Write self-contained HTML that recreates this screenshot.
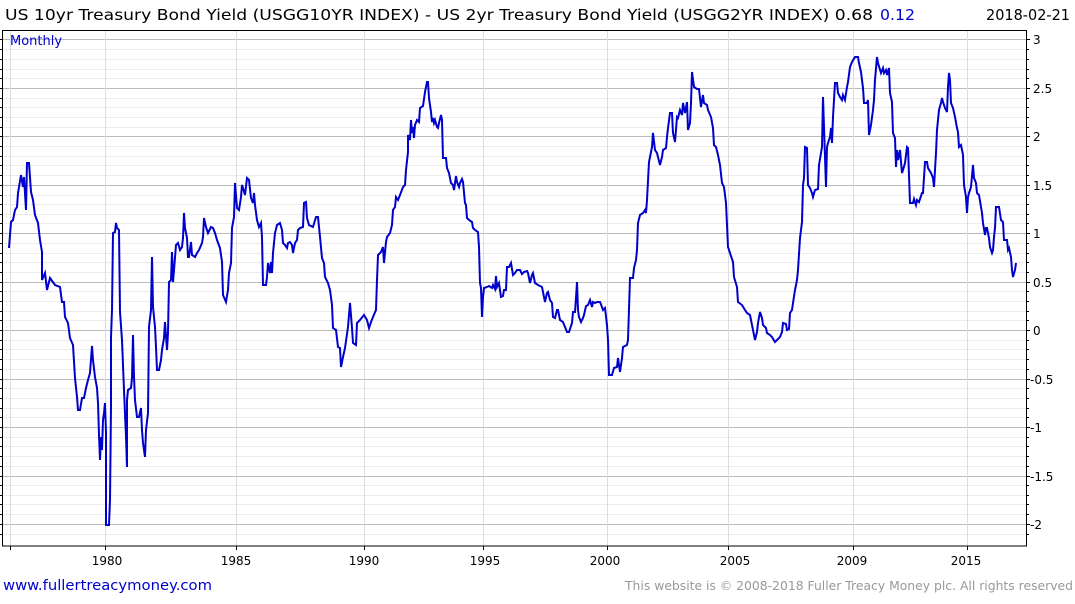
<!DOCTYPE html>
<html><head><meta charset="utf-8"><style>
body{margin:0;background:#fff;width:1075px;height:600px;overflow:hidden;font-family:"DejaVu Sans",sans-serif}
</style></head><body>
<svg width="1075" height="600" xmlns="http://www.w3.org/2000/svg" font-family="DejaVu Sans, sans-serif">
<text x="5" y="20" font-size="15" fill="#000" textLength="868" lengthAdjust="spacingAndGlyphs">US 10yr Treasury Bond Yield (USGG10YR INDEX) - US 2yr Treasury Bond Yield (USGG2YR INDEX) 0.68</text>
<text x="880" y="20" font-size="15" fill="#0000cc" textLength="35" lengthAdjust="spacingAndGlyphs">0.12</text>
<text x="986" y="20" font-size="15" fill="#000" textLength="84" lengthAdjust="spacingAndGlyphs">2018-02-21</text>
<g stroke="#ececec" stroke-width="1">
<line x1="3" x2="1026" y1="49.5" y2="49.5"/><line x1="3" x2="1026" y1="59.5" y2="59.5"/><line x1="3" x2="1026" y1="69.5" y2="69.5"/><line x1="3" x2="1026" y1="78.5" y2="78.5"/>
<line x1="3" x2="1026" y1="98.5" y2="98.5"/><line x1="3" x2="1026" y1="107.5" y2="107.5"/><line x1="3" x2="1026" y1="117.5" y2="117.5"/><line x1="3" x2="1026" y1="127.5" y2="127.5"/>
<line x1="3" x2="1026" y1="146.5" y2="146.5"/><line x1="3" x2="1026" y1="156.5" y2="156.5"/><line x1="3" x2="1026" y1="165.5" y2="165.5"/><line x1="3" x2="1026" y1="175.5" y2="175.5"/>
<line x1="3" x2="1026" y1="195.5" y2="195.5"/><line x1="3" x2="1026" y1="204.5" y2="204.5"/><line x1="3" x2="1026" y1="214.5" y2="214.5"/><line x1="3" x2="1026" y1="223.5" y2="223.5"/>
<line x1="3" x2="1026" y1="243.5" y2="243.5"/><line x1="3" x2="1026" y1="253.5" y2="253.5"/><line x1="3" x2="1026" y1="262.5" y2="262.5"/><line x1="3" x2="1026" y1="272.5" y2="272.5"/>
<line x1="3" x2="1026" y1="291.5" y2="291.5"/><line x1="3" x2="1026" y1="301.5" y2="301.5"/><line x1="3" x2="1026" y1="311.5" y2="311.5"/><line x1="3" x2="1026" y1="320.5" y2="320.5"/>
<line x1="3" x2="1026" y1="340.5" y2="340.5"/><line x1="3" x2="1026" y1="349.5" y2="349.5"/><line x1="3" x2="1026" y1="359.5" y2="359.5"/><line x1="3" x2="1026" y1="369.5" y2="369.5"/>
<line x1="3" x2="1026" y1="388.5" y2="388.5"/><line x1="3" x2="1026" y1="398.5" y2="398.5"/><line x1="3" x2="1026" y1="408.5" y2="408.5"/><line x1="3" x2="1026" y1="417.5" y2="417.5"/>
<line x1="3" x2="1026" y1="437.5" y2="437.5"/><line x1="3" x2="1026" y1="446.5" y2="446.5"/><line x1="3" x2="1026" y1="456.5" y2="456.5"/><line x1="3" x2="1026" y1="466.5" y2="466.5"/>
<line x1="3" x2="1026" y1="485.5" y2="485.5"/><line x1="3" x2="1026" y1="495.5" y2="495.5"/><line x1="3" x2="1026" y1="504.5" y2="504.5"/><line x1="3" x2="1026" y1="514.5" y2="514.5"/>
<line x1="3" x2="1026" y1="534.5" y2="534.5"/>
</g>
<g stroke="#bbb" stroke-width="1">
<line x1="3" x2="1026" y1="39.5" y2="39.5"/><line x1="3" x2="1026" y1="88.5" y2="88.5"/><line x1="3" x2="1026" y1="136.5" y2="136.5"/><line x1="3" x2="1026" y1="185.5" y2="185.5"/><line x1="3" x2="1026" y1="233.5" y2="233.5"/><line x1="3" x2="1026" y1="282.5" y2="282.5"/><line x1="3" x2="1026" y1="330.5" y2="330.5"/><line x1="3" x2="1026" y1="379.5" y2="379.5"/><line x1="3" x2="1026" y1="427.5" y2="427.5"/><line x1="3" x2="1026" y1="476.5" y2="476.5"/><line x1="3" x2="1026" y1="524.5" y2="524.5"/>
</g>
<g stroke="#ddd" stroke-width="1">
<line x1="10.5" x2="10.5" y1="30" y2="546"/><line x1="105.5" x2="105.5" y1="30" y2="546"/><line x1="236.5" x2="236.5" y1="30" y2="546"/><line x1="364.5" x2="364.5" y1="30" y2="546"/><line x1="483.5" x2="483.5" y1="30" y2="546"/><line x1="607.5" x2="607.5" y1="30" y2="546"/><line x1="728.5" x2="728.5" y1="30" y2="546"/><line x1="853.5" x2="853.5" y1="30" y2="546"/><line x1="967.5" x2="967.5" y1="30" y2="546"/>
</g>
<rect x="2.5" y="30.5" width="1024" height="515.5" fill="none" stroke="#000" stroke-width="1"/>
<g stroke="#000" stroke-width="1">
<path d="M0,39.5h3M0,49.5h3M0,59.5h3M0,69.5h3M0,78.5h3M0,88.5h3M0,98.5h3M0,107.5h3M0,117.5h3M0,127.5h3M0,136.5h3M0,146.5h3M0,156.5h3M0,165.5h3M0,175.5h3M0,185.5h3M0,195.5h3M0,204.5h3M0,214.5h3M0,223.5h3M0,233.5h3M0,243.5h3M0,253.5h3M0,262.5h3M0,272.5h3M0,282.5h3M0,291.5h3M0,301.5h3M0,311.5h3M0,320.5h3M0,330.5h3M0,340.5h3M0,349.5h3M0,359.5h3M0,369.5h3M0,379.5h3M0,388.5h3M0,398.5h3M0,408.5h3M0,417.5h3M0,427.5h3M0,437.5h3M0,446.5h3M0,456.5h3M0,466.5h3M0,476.5h3M0,485.5h3M0,495.5h3M0,504.5h3M0,514.5h3M0,524.5h3M0,534.5h3"/>
<path transform="translate(1026,0)" d="M0,39.5h4M0,49.5h3M0,59.5h3M0,69.5h3M0,78.5h3M0,88.5h4M0,98.5h3M0,107.5h3M0,117.5h3M0,127.5h3M0,136.5h4M0,146.5h3M0,156.5h3M0,165.5h3M0,175.5h3M0,185.5h4M0,195.5h3M0,204.5h3M0,214.5h3M0,223.5h3M0,233.5h4M0,243.5h3M0,253.5h3M0,262.5h3M0,272.5h3M0,282.5h4M0,291.5h3M0,301.5h3M0,311.5h3M0,320.5h3M0,330.5h4M0,340.5h3M0,349.5h3M0,359.5h3M0,369.5h3M0,379.5h4M0,388.5h3M0,398.5h3M0,408.5h3M0,417.5h3M0,427.5h4M0,437.5h3M0,446.5h3M0,456.5h3M0,466.5h3M0,476.5h4M0,485.5h3M0,495.5h3M0,504.5h3M0,514.5h3M0,524.5h4M0,534.5h3"/>
<path d="M10.5,546v4M105.5,546v4M236.5,546v4M364.5,546v4M483.5,546v4M607.5,546v4M728.5,546v4M853.5,546v4M967.5,546v4"/>
</g>
<g font-size="12" fill="#000">
<text x="1033" y="44">3</text><text x="1033" y="93">2.5</text><text x="1033" y="141">2</text><text x="1033" y="190">1.5</text><text x="1033" y="238">1</text><text x="1033" y="287">0.5</text><text x="1033" y="335">0</text><text x="1030" y="384">-0.5</text><text x="1030" y="432">-1</text><text x="1030" y="481">-1.5</text><text x="1030" y="529">-2</text>
</g>
<g font-size="12" fill="#000" text-anchor="middle">
<text x="107" y="565">1980</text><text x="236" y="565">1985</text><text x="364" y="565">1990</text><text x="485" y="565">1995</text><text x="605" y="565">2000</text><text x="735" y="565">2005</text><text x="852" y="565">2009</text><text x="966" y="565">2015</text>
</g>
<text x="10" y="45" font-size="13" fill="#0000cc">Monthly</text>
<polyline fill="none" stroke="#0000cc" stroke-width="2" points="9,248 11,222 13,220 15,210 17,207 18,193 21,175 23,187 24,177 26,210 27,163 29,163 31,192 33,200 35,215 38,223 40,240 42,252 42,280 45,273 47,290 50,278 55,285 60,287 62,302 64,302 65,317 68,323 70,338 73,345 75,378 77,397 78,410 80,410 82,398 84,398 86,388 88,380 90,373 92,346 93,360 95,377 97,388 98,403 99,435 100,460 101,437 102,450 103,420 104,413 105,403 106,433 106,525 109,525 110,500 111,407 111,337 112,310 113,233 115,232 116,223 117,228 119,230 120,312 122,340 123,365 124,390 126,437 127,467 127,400 128,390 131,388 132,378 133,335 134,377 135,400 137,417 139,417 141,408 142,430 143,443 145,457 146,430 148,413 149,327 151,310 152,257 153,307 155,327 156,347 157,370 159,370 161,360 162,350 164,338 165,322 167,350 168,333 169,282 171,280 172,252 173,282 174,270 176,245 178,243 180,250 182,247 183,238 184,213 185,228 187,238 188,257 189,257 191,242 192,255 195,257 197,253 199,250 202,243 203,237 204,218 206,227 208,233 211,227 213,228 215,233 217,240 220,248 222,262 223,295 226,302 228,290 229,273 231,263 232,228 234,217 235,183 237,208 239,210 241,197 242,185 243,188 245,195 247,178 249,180 251,198 253,203 254,193 255,205 257,220 259,227 261,223 262,237 263,285 266,285 267,277 268,263 270,273 271,262 272,273 273,253 275,233 277,225 280,223 282,230 283,243 285,245 287,248 288,243 290,242 292,245 293,253 295,243 297,240 298,230 300,228 303,227 304,203 306,202 307,218 309,225 313,227 316,217 318,217 320,237 322,258 324,263 325,277 328,283 330,290 332,305 333,328 336,330 338,347 340,348 341,367 343,357 345,348 348,327 350,303 352,328 353,343 356,345 357,323 360,320 364,315 367,320 369,328 371,322 373,317 376,310 377,280 378,255 381,252 383,247 384,263 386,242 387,237 390,233 392,225 393,210 395,207 396,197 398,200 400,195 403,187 405,185 406,170 408,152 408,135 410,140 411,120 412,133 413,127 414,138 415,125 417,120 419,122 420,108 423,106 425,92 427,82 428,82 429,98 431,112 432,122 433,118 434,123 435,120 437,127 438,128 439,123 441,115 442,120 443,158 446,158 447,168 449,173 451,183 453,185 454,190 456,176 457,182 459,187 460,183 462,179 463,182 465,203 466,205 467,218 469,220 472,222 473,228 475,230 478,232 479,247 480,283 481,288 482,317 483,297 484,288 487,287 489,286 492,288 493,285 495,289 496,276 497,287 499,283 501,297 503,296 504,290 506,290 507,267 509,267 511,263 513,275 515,273 517,270 520,270 522,274 524,272 527,271 528,273 530,283 532,275 533,273 535,283 538,285 542,287 543,292 545,302 547,293 548,292 550,300 552,303 553,317 555,318 557,310 558,310 560,320 563,322 565,327 567,332 569,332 572,323 573,312 575,312 576,298 577,282 578,310 579,317 581,322 583,318 584,315 586,306 588,305 590,300 592,307 593,302 595,303 597,302 600,302 602,307 603,310 605,308 607,325 608,340 609,375 612,375 614,368 617,367 618,358 620,372 622,358 623,347 625,346 627,345 628,340 630,278 633,278 634,268 636,260 637,250 638,223 640,215 643,213 645,210 646,213 647,200 649,162 650,157 652,147 653,133 655,150 657,153 658,157 660,165 662,157 663,150 666,148 667,137 668,128 670,113 672,113 673,133 675,142 677,117 678,118 680,110 682,115 683,103 685,113 687,102 688,130 690,123 691,103 692,72 694,87 697,89 699,89 701,107 703,95 704,103 707,105 708,110 711,117 713,128 714,145 716,147 718,155 720,165 722,183 724,187 726,203 727,225 728,247 730,253 733,262 734,277 737,287 738,302 742,305 745,310 747,313 750,315 752,325 753,330 755,340 757,332 758,323 760,312 762,318 763,325 766,328 767,333 770,335 772,337 775,342 777,340 780,337 782,332 783,323 786,324 787,330 789,329 790,313 792,310 793,303 795,290 797,280 798,270 800,238 802,222 803,185 804,178 805,147 807,148 808,185 810,188 812,193 813,197 815,190 818,189 819,165 822,147 823,97 824,127 826,187 827,147 828,143 830,137 831,128 832,143 833,117 835,83 837,83 838,93 840,97 842,100 843,95 845,100 847,87 848,82 850,67 852,62 855,57 858,57 859,63 861,72 863,88 864,103 867,103 868,100 869,135 871,125 873,110 874,100 875,80 877,57 878,63 881,73 883,68 884,73 886,70 887,75 889,68 890,93 892,102 893,133 895,138 896,167 897,150 898,160 900,150 902,173 903,170 905,163 907,147 908,148 910,203 913,203 914,199 916,205 917,200 919,202 922,193 923,193 925,162 927,162 928,168 931,173 933,178 934,187 936,153 937,130 939,110 941,103 942,98 943,102 945,108 947,112 948,87 949,73 950,80 951,103 953,108 955,117 957,128 958,132 959,147 961,145 963,155 964,185 966,197 967,213 968,197 969,193 971,187 973,165 974,178 976,183 977,193 979,195 981,207 982,213 983,223 985,235 986,228 987,228 989,238 990,247 992,253 993,250 994,237 995,228 996,207 999,207 1001,220 1003,222 1004,240 1007,240 1008,250 1009,248 1011,257 1012,270 1013,277 1015,270 1016,263"/>
<text x="3" y="590" font-size="14" fill="#0000cc" textLength="209" lengthAdjust="spacingAndGlyphs">www.fullertreacymoney.com</text>
<text x="625" y="590" font-size="12.5" fill="#999" textLength="448" lengthAdjust="spacingAndGlyphs">This website is © 2008-2018 Fuller Treacy Money plc. All rights reserved</text>
</svg>
</body></html>
